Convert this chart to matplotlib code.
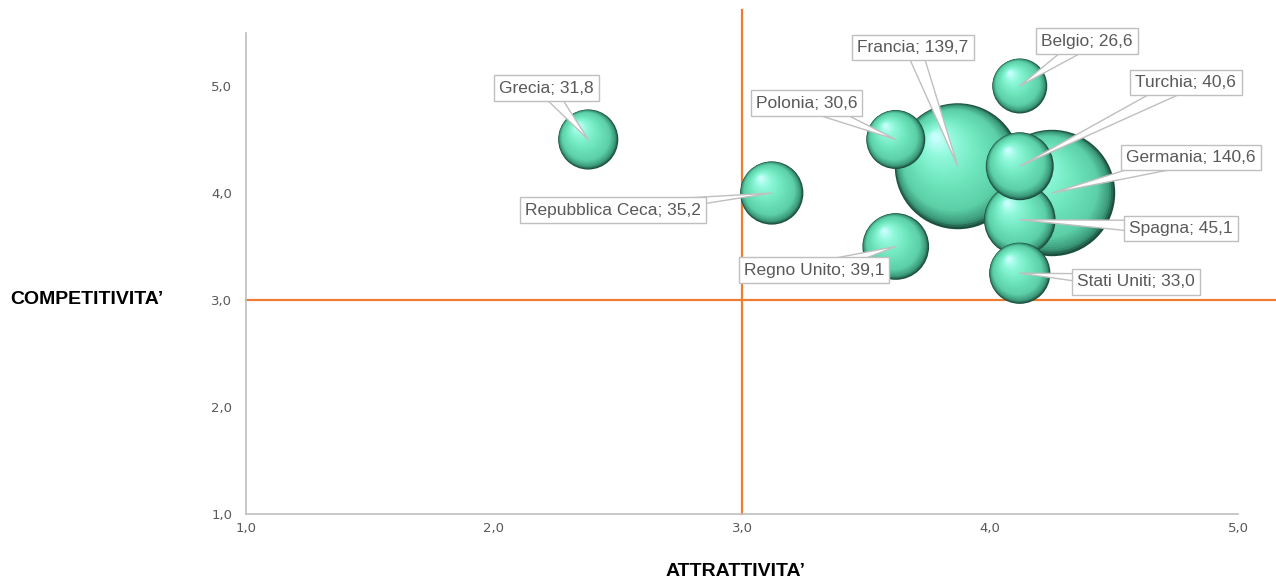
import numpy as np
import matplotlib
matplotlib.use('Agg')
import matplotlib.pyplot as plt
from matplotlib.transforms import offset_copy
from matplotlib.colors import LinearSegmentedColormap
from matplotlib.ticker import FuncFormatter

# data
paesi = ['Grecia', 'Repubblica Ceca', 'Polonia', 'Regno Unito', 'Francia',
         'Belgio', 'Turchia', 'Germania', 'Spagna', 'Stati Uniti']
attrattivita = [2.38, 3.12, 3.62, 3.62, 3.87, 4.12, 4.12, 4.25, 4.12, 4.12]
competitivita = [4.5, 4.0, 4.5, 3.5, 4.25, 5.0, 4.25, 4.0, 3.75, 3.25]
valori = [31.8, 35.2, 30.6, 39.1, 139.7, 26.6, 40.6, 140.6, 45.1, 33.0]

# label box centres (layout only)
pos_etichette = {
    'Grecia': (2.21, 4.98), 'Repubblica Ceca': (2.48, 3.84),
    'Polonia': (3.26, 4.84), 'Regno Unito': (3.29, 3.28),
    'Francia': (3.69, 5.36), 'Belgio': (4.39, 5.42),
    'Turchia': (4.79, 5.03), 'Germania': (4.81, 4.33),
    'Spagna': (4.77, 3.67), 'Stati Uniti': (4.59, 3.17),
}

fig = plt.figure(figsize=(12.76, 5.82), dpi=100)
ax = fig.add_axes([246/1276, 68/582, 992/1276, 481.5/582])
ax.set_xlim(1, 5)
ax.set_ylim(1, 5.5)
ax.set_xticks([1, 2, 3, 4, 5])
ax.set_yticks([1, 2, 3, 4, 5])
fmt = FuncFormatter(lambda v, p: ('%.1f' % v).replace('.', ','))
ax.xaxis.set_major_formatter(fmt)
ax.yaxis.set_major_formatter(fmt)
ax.tick_params(length=0, labelsize=9.5, labelcolor='#595959')
ax.tick_params(axis='x', pad=6)
ax.tick_params(axis='y', pad=10)
for s in ['top', 'right']:
    ax.spines[s].set_visible(False)
for s in ['left', 'bottom']:
    ax.spines[s].set_color('#bfbfbf')
    ax.spines[s].set_linewidth(1.2)

# quadrant lines
ax.plot([3, 3], [1, 5.71], color='#ed7d31', lw=1.6, clip_on=False, zorder=1)
ax.plot([1, 5.153], [3, 3], color='#ed7d31', lw=1.6, clip_on=False, zorder=1)

# shaded spheres
cmap = LinearSegmentedColormap.from_list(
    'sfera', [(0, '#1c4f40'), (0.06, '#3b9979'), (0.2, '#5ccfa7'),
              (0.5, '#6fe6bd'), (0.8, '#8ff8da'), (1, '#c6fffb')])
r_ref = 63 * 0.72 / np.sqrt(139.7)   # radius in points per sqrt(value)
ordine = np.argsort(valori)[::-1]
n_layers = 40
for k, i in enumerate(ordine):
    R = r_ref * np.sqrt(valori[i])
    for j in range(n_layers):
        t = j / (n_layers - 1)
        r = R * (1 - 0.94 * t)
        off = (R - r) * 0.62
        tr = offset_copy(ax.transData, fig=fig, x=-0.6 * off, y=0.8 * off, units='points')
        ax.scatter(attrattivita[i], competitivita[i], s=(2 * r) ** 2,
                   color=cmap(t), edgecolors='none', transform=tr,
                   zorder=2 + k * 0.1 + j * 0.001, clip_on=False)

# labels
for i, p in enumerate(paesi):
    lx, ly = pos_etichette[p]
    testo = '%s; %s' % (p, ('%.1f' % valori[i]).replace('.', ','))
    ax.annotate(testo, xy=(attrattivita[i], competitivita[i]), xytext=(lx, ly),
                ha='center', va='center', fontsize=12.5, color='#595959',
                family='Liberation Sans', zorder=10, annotation_clip=False,
                bbox=dict(boxstyle='square,pad=0.3', fc='white', ec='#bfbfbf', lw=1),
                arrowprops=dict(arrowstyle='wedge,tail_width=0.9', fc='white',
                                ec='#bfbfbf', lw=1, shrinkA=0, shrinkB=0,
                                patchA=None))

fig.text(10/1276, (582-300)/582, 'COMPETITIVITA’', fontsize=14, fontweight='bold',
         family='Liberation Sans', ha='left', va='center')
fig.text(736/1276, (582-571)/582, 'ATTRATTIVITA’', fontsize=14, fontweight='bold',
         family='Liberation Sans', ha='center', va='center')

plt.savefig('out.png', dpi=100)
